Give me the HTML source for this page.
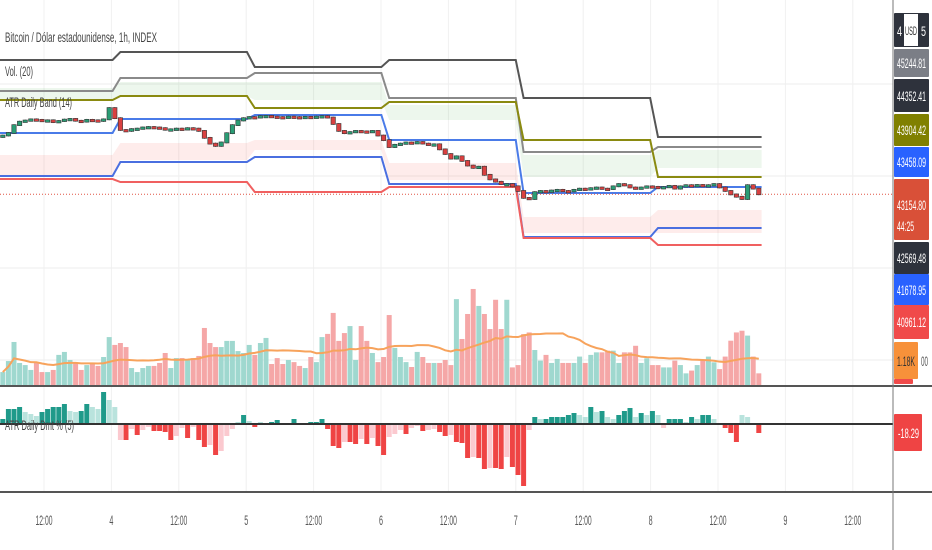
<!DOCTYPE html>
<html><head><meta charset="utf-8"><style>
html,body{margin:0;padding:0;background:#fff;}
svg{display:block;font-family:"Liberation Sans",sans-serif;}
</style></head><body>
<svg id="chart" width="932" height="550" viewBox="0 0 932 550" xmlns="http://www.w3.org/2000/svg">
<g id="grid"></g>
<g id="bands"></g>
<g id="vol"></g>
<g id="candles"></g>
<g id="atr"></g>
<g id="axes"></g>
</svg>
<script>
const closes=[45700,45810,46150,
46300,46350,46400,46380,46330,46360,46280,46330,46390,46420,46340,46300,46380,46360,46330,46400,
46890,46450,45940,
45900,45980,46000,46050,46070,46050,46020,45950,45970,46000,45980,46020,46000,45900,
45600,45350,45250,45400,45800,46150,46350,
46450,46500,46480,46540,46550,46520,46500,46480,46520,46500,46480,46510,46500,46520,46540,46480,
46200,45900,45800,45850,45900,45880,45850,45900,45700,45500,45200,
45300,45350,45400,45380,45420,45350,45300,45320,
45100,44900,44700,44800,44600,44400,44300,44350,44000,43800,43700,43600,43600,43500,43300,43000,
42950,43250,43300,43280,43320,43350,43300,43280,43350,43400,43380,
43420,43450,43400,43380,43500,43600,43550,43450,
43400,43450,43500,43480,43420,43470,43520,43400,
43500,43550,43520,43560,43530,43550,43600,
43450,43300,43150,43050,42950,43550,43400,43154.8];
const volumes=[0.61,1.13,2.03,1.04,0.94,0.71,1.04,0.61,0.61,0.71,1.42,1.56,1.18,1.04,0.71,0.94,1.04,0.90,1.32,2.26,
1.89,1.98,1.79,0.80,0.61,0.80,0.90,0.90,1.04,1.51,0.80,1.27,1.27,1.18,1.27,1.37,2.69,1.98,1.79,1.79,
2.08,2.08,1.60,1.51,1.89,1.42,1.98,2.22,0.99,1.27,0.99,1.18,1.08,0.90,0.80,1.32,1.08,2.26,2.41,3.40,
2.08,2.45,2.78,1.18,2.78,2.08,1.51,1.08,1.32,3.30,1.75,1.32,1.08,0.85,1.56,1.32,1.04,1.04,1.04,1.18,
0.94,4.05,2.17,3.35,4.53,3.73,3.35,2.64,4.02,2.64,4.02,0.83,0.94,2.40,2.48,1.65,1.15,1.42,1.04,1.23,
1.04,1.04,1.04,1.34,1.04,1.42,1.54,1.54,1.62,1.62,1.04,1.54,1.54,1.85,1.04,1.26,0.94,0.94,0.83,0.83,
1.15,0.94,0.55,0.68,0.94,1.15,1.34,1.07,0.75,1.34,2.09,2.48,2.56,2.33,1.34,0.55];
const atrDmt=[10,30,30,34,24,20,16,24,30,34,34,40,26,24,26,40,34,30,64,48,
34,-32,-32,-10,-22,-12,-6,-14,-14,-16,-32,-24,-8,-28,-6,-32,-46,-42,-62,-54,
-24,-10,4,18,6,-6,4,2,4,8,2,2,10,2,2,4,4,10,-10,-44,
-48,-36,-36,-40,-30,-40,-28,-44,-62,-26,-20,-12,-20,-8,-4,-14,-12,-10,-16,-24,
-22,-36,-38,-68,-66,-68,-90,-88,-88,-90,-66,-86,-102,-124,-12,14,10,10,14,14,
14,18,22,18,14,34,24,26,14,10,18,26,32,14,22,18,26,18,-8,10,
10,10,4,14,10,18,18,10,2,-8,-18,-36,18,14,0,-18];
const segStart=[0,21,45,69,93,117];
const bandDark =[48970,49317,48667,48970,47325,45636];
const bandGray =[47628,48191,48407,47325,44987,45203];
const bandOlive=[47238,47411,46892,47152,45506,43904];
const bandBlueU=[45809,46415,46589,45506,43211,43471];
const bandBlueL=[43947,44554,44770,43601,41306,41696];
const bandRed  =[43817,43687,43254,43471,41263,40960];
const greenTop =[47758,48018,48018,47022,44857,45073];
const greenBot =[47238,47411,47238,46372,43904,44294];
const pinkTop  =[44857,45376,45506,44510,42172,42475];
const pinkBot  =[43947,44640,45073,43774,41479,41479];
const timeLabels=["12:00","4","12:00","5","12:00","6","12:00","7","12:00","8","12:00","9","12:00"];
const priceLabels=["45244.81","44352.41","43904.42","43458.09","43154.80","42569.48","41678.95","40961.12"];

const NS="http://www.w3.org/2000/svg";
const PLOT_W=893, STEP=5.6;
const xOf=i=>2.8+STEP*i;
const yP=p=>177+(43904-p)/43.3;
const yV=v=>385-v*21.2;
const yA=v=>424-v*0.5;
function mk(tag,attrs,parent){const e=document.createElementNS(NS,tag);for(const k in attrs)e.setAttribute(k,attrs[k]);parent.appendChild(e);return e;}
const G=id=>document.getElementById(id);

const grid=G('grid');
[84,176,268,360].forEach(y=>{const l=mk('line',{x1:0,x2:PLOT_W,y1:y,y2:y,stroke:'#ececec','stroke-width':1},grid);

});
timeLabels.forEach((t,k)=>{const x=44+k*67.4;const l=mk('line',{x1:x,x2:x,y1:0,y2:491,stroke:'#f0f0f0','stroke-width':1},grid);

});

const bands=G('bands');
const last=closes.length-1;
function segPts(arr){const pts=[];for(let s=0;s<segStart.length;s++){
 const a=s===0?0:xOf(segStart[s]);const b=s===segStart.length-1?xOf(last)+2.8:xOf(segStart[s+1]-1.4);
 pts.push([a,yP(arr[s])],[b,yP(arr[s])]);}return pts;}
function fillBand(top,bot,color,name){const t=segPts(top),b=segPts(bot).reverse();
 const p=mk('polygon',{points:t.concat(b).map(q=>q.join(',')).join(' '),fill:color},bands);
 
 }
fillBand(greenTop,greenBot,'rgba(76,175,80,0.10)','upper-band-fill');
fillBand(pinkTop,pinkBot,'rgba(244,67,54,0.10)','lower-band-fill');
function line(arr,color,name){const p=mk('polyline',{points:segPts(arr).map(q=>q.join(',')).join(' '),fill:'none',stroke:color,'stroke-width':2},bands);
 
 }
line(bandDark,'#555','band-dark');line(bandGray,'#8a8a8a','band-gray');line(bandOlive,'#8a8a10','band-olive');
line(bandBlueU,'#4a7be8','band-blue-upper');line(bandBlueL,'#4a6fe0','band-blue-lower');line(bandRed,'#f06060','band-red');
const pl=mk('line',{x1:0,x2:PLOT_W,y1:yP(closes[last]),y2:yP(closes[last]),stroke:'#e05545','stroke-width':1,'stroke-dasharray':'1,2'},bands);



const cg=G('candles'),vg=G('vol');
const up=[];
closes.forEach((c,i)=>{const o=i?closes[i-1]:c-60;const u=c>=o;up.push(u);
 const x=xOf(i);const hi=Math.max(o,c)+40,lo=Math.min(o,c)-40;
 const w=mk('line',{x1:x,x2:x,y1:yP(hi),y2:yP(lo),stroke:'#444','stroke-width':0.8},cg);
 
 
 const yt=yP(Math.max(o,c)),yb=yP(Math.min(o,c));
 const r=mk('rect',{x:x-2.2,y:yt-0.5,width:4.4,height:Math.max(2.5,yb-yt+1),fill:u?'#2a9d75':'#d94040',stroke:'#333','stroke-width':0.6},cg);
 
 });
volumes.forEach((v,i)=>{const x=xOf(i);
 const r=mk('rect',{x:x-2.5,y:yV(v),width:5,height:385-yV(v),fill:up[i]?'#9fd8cf':'#f5a7a7'},vg);
 
 });
const ma=[];volumes.forEach((v,i)=>{const a=volumes.slice(Math.max(0,i-19),i+1);ma.push(a.reduce((s,q)=>s+q,0)/a.length);});
const mal=mk('polyline',{points:ma.map((m,i)=>xOf(i)+','+yV(m)).join(' '),fill:'none',stroke:'#f7a35c','stroke-width':2},vg);



const ag=G('atr');
atrDmt.forEach((v,i)=>{const prev=i?Math.abs(atrDmt[i-1]):0;const strong=Math.abs(v)>=prev;
 const col=v>=0?(strong?'#1f9a8a':'#b9e3dd'):(strong?'#ef4444':'#fbc9cf');
 const y0=yA(0),y1=yA(v);
 const r=mk('rect',{x:xOf(i)-2.5,y:Math.min(y0,y1),width:5,height:Math.max(0.5,Math.abs(y1-y0)),fill:col},ag);
 
 });

const ax=G('axes');
function L(x1,y1,x2,y2,c,w,name){const l=mk('line',{x1,y1,x2,y2,stroke:c,'stroke-width':w},ax);
 
 }
L(0,424,PLOT_W,424,'#333',2,'atr-zero-line');
L(0,386,932,386,'#555',2,'pane-separator');
L(0,492,932,492,'#555',2,'pane-separator-bottom');
L(893,0,893,550,'#777',1,'price-axis-line');
function T(txt,x,y,len,size,col,name,anchor){const t=mk('text',{x,y,'font-size':size,fill:col,textLength:len,lengthAdjust:'spacingAndGlyphs','text-anchor':anchor||'start'},ax);t.textContent=txt;
 
 return t;}
timeLabels.forEach((t,k)=>{const x=44+k*67.4;T(t,x,525,t.length>1?17:4,14,'#555','time-label','middle');});
T('Bitcoin / Dólar estadounidense, 1h, INDEX',5,42,152,14,'#444','chart-title');
T('Vol. (20)',5,76,28,14,'#444','volume-legend');
T('ATR Daily Band (14)',5,107,67,14,'#444','atr-band-legend');
T('ATR Daily Dmt % (5)',5,430,69,14,'#444','atr-dmt-legend');
function box(y1,y2,col,name,x2){const r=mk('rect',{x:894,y:y1,width:(x2||929)-894,height:y2-y1,fill:col,rx:1},ax);
 
 }
box(13,47,'#2e323c','price-label-top');
box(49,77,'#7b7e86','price-label');box(79,112,'#2e323c','price-label');box(114,146,'#808000','price-label');
box(147,177,'#2962ff','price-label');box(179,240,'#d95038','last-price-label');box(242,274,'#2e323c','price-label');
box(274,305,'#2962ff','price-label');box(305,339,'#f04a4a','price-label');
box(379,384,'#f04a4a','volume-label-red',913);box(342,379,'#f7913a','volume-ma-label',918);
box(414,451,'#ef4444','atr-dmt-label',922);
const wr=mk('rect',{x:904,y:14,width:14,height:32,fill:'#fff'},ax);


T('4',897,36,5,14,'#fff','price-label-text');T('USD',905,35,12,12,'#333','currency-text');T('5',921,36,5,14,'#fff','price-label-text');
const ly=[63,96,130,162,205,258,290,322];
priceLabels.forEach((p,k)=>T(p,897,ly[k]+5,29,14,'#fff','price-label-text'));
T('44:25',897,231,17,14,'#fff','countdown-text');
T('1.18K',897,366,18,14,'#333','volume-ma-text');
T('00',921,366,7,14,'#555','volume-text');
T('-18.29',898,438,21,14,'#fff','atr-dmt-text');
</script>
</body></html>
